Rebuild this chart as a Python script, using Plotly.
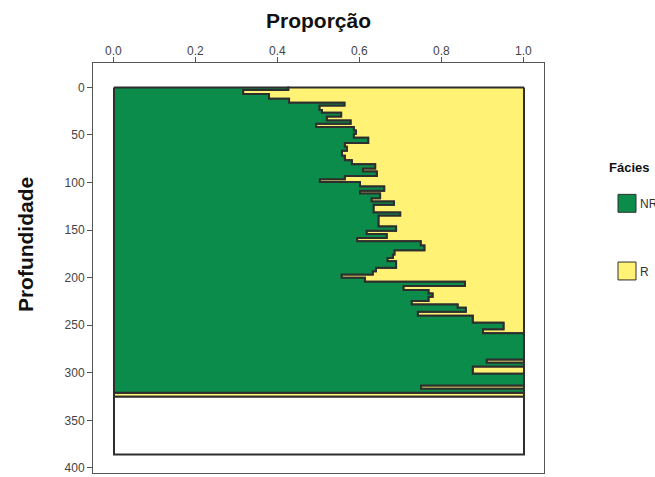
import plotly.graph_objects as go

# Depth (top of each interval) and proportion of facies NR in the interval
profundidade = [0, 2.6, 6.8, 12.0, 16.2, 19.1, 23.6, 26.7, 30.6, 34.8,
                38.2, 41.7, 45.2, 48.7, 52.9, 58.4, 62.3, 66.5, 71.7, 76.6,
                80.8, 85.3, 88.5, 93.0, 96.5, 99.3, 104.2, 108.7, 111.5, 116.4,
                119.9, 123.4, 131.4, 134.6, 146.1, 150.6, 154.1, 158.3, 161.8, 166.3,
                171.2, 175.7, 179.3, 182.7, 189.7, 193.2, 196.6, 200.2, 204.4, 208.9,
                213.1, 216.6, 220.1, 224.6, 228.1, 231.6, 235.8, 240.0, 247.3, 254.2,
                258.4, 286.1, 289.6, 293.4, 301.0, 313.3, 316.8, 320.9]
prop_nr = [0.425, 0.315, 0.378, 0.427, 0.562, 0.501, 0.507, 0.554, 0.519, 0.577,
           0.493, 0.585, 0.590, 0.585, 0.620, 0.563, 0.568, 0.556, 0.563, 0.580,
           0.637, 0.607, 0.641, 0.563, 0.502, 0.600, 0.659, 0.600, 0.649, 0.628,
           0.683, 0.633, 0.698, 0.645, 0.688, 0.616, 0.665, 0.593, 0.748, 0.757,
           0.684, 0.680, 0.667, 0.688, 0.639, 0.631, 0.555, 0.612, 0.856, 0.706,
           0.767, 0.777, 0.767, 0.726, 0.838, 0.858, 0.741, 0.875, 0.950, 0.900,
           1.0, 0.909, 1.0, 0.875, 1.0, 0.749, 1.0, 0.0]
base_dados = 325.1          # base of the last interval with data
base_sem_dados = 385.9      # base of the interval without data

facies = ["NR", "R"]
cores = {"NR": "#0b8c4a", "R": "#fff274"}
contorno = "#2e2e2e"

x_ticks = [0.0, 0.2, 0.4, 0.6, 0.8, 1.0]
y_ticks = [0, 50, 100, 150, 200, 250, 300, 350, 400]

# Step outline of the NR/R boundary
tops = profundidade
bots = profundidade[1:] + [base_dados]
bx, by = [], []
for p, t, b in zip(prop_nr, tops, bots):
    bx += [p, p]
    by += [t, b]

fig = go.Figure()
fig.add_trace(go.Scatter(
    x=[1.0] + bx + [1.0, 1.0], y=[tops[0]] + by + [base_dados, tops[0]],
    fill="toself", fillcolor=cores["R"], mode="lines",
    line=dict(color=contorno, width=2), showlegend=False, hoverinfo="skip"))
fig.add_trace(go.Scatter(
    x=[0.0] + bx + [0.0, 0.0], y=[tops[0]] + by + [base_dados, tops[0]],
    fill="toself", fillcolor=cores["NR"], mode="lines",
    line=dict(color=contorno, width=2), showlegend=False, hoverinfo="skip"))
fig.add_trace(go.Scatter(
    x=[0, 1, 1, 0, 0], y=[base_dados, base_dados, base_sem_dados, base_sem_dados, base_dados],
    fill="toself", fillcolor="white", mode="lines",
    line=dict(color=contorno, width=2), showlegend=False, hoverinfo="skip"))

L, R_, T, B = 93, 544, 63, 475
W, H = 655, 477
pw, ph = R_ - L, B - T


def px(xp):
    return (xp - L) / pw


def py(yp):
    return (B - yp) / ph


fonte = "Liberation Sans, Arial"

# Axis titles
fig.add_annotation(text="<b>Proporção</b>", xref="paper", yref="paper",
                   x=px(318), y=py(20), xanchor="center", yanchor="middle",
                   showarrow=False, font=dict(family=fonte, size=21, color="#111"))
fig.add_annotation(text="<b>Profundidade</b>", xref="paper", yref="paper",
                   x=px(25), y=py(246), xanchor="center", yanchor="middle",
                   showarrow=False, textangle=-90,
                   font=dict(family=fonte, size=21, color="#111"))

# Top-axis tick labels, sitting right on the tick marks
for v in x_ticks:
    fig.add_annotation(text=f"{v:.1f}", xref="x", yref="paper",
                       x=v, y=py(51), xanchor="center", yanchor="middle",
                       showarrow=False, font=dict(family=fonte, size=12, color="#444"))

# Legend
fig.add_annotation(text="<b>Fácies</b>", xref="paper", yref="paper",
                   x=px(607), y=py(168), xanchor="left", yanchor="middle",
                   showarrow=False, font=dict(family=fonte, size=13, color="#111"))
for nome, ymid in zip(facies, [204, 272]):
    fig.add_shape(type="rect", xref="paper", yref="paper",
                  x0=px(618), x1=px(636), y0=py(ymid - 9), y1=py(ymid + 9),
                  fillcolor=cores[nome], line=dict(color=contorno, width=1))
    fig.add_annotation(text=nome, xref="paper", yref="paper",
                       x=px(638), y=py(ymid + 1), xanchor="left", yanchor="middle",
                       showarrow=False, font=dict(family=fonte, size=12, color="#333"))

fig.update_xaxes(range=[-0.0512, 1.0488], side="top", tickvals=x_ticks,
                 showticklabels=False,
                 ticks="outside", ticklen=5, tickcolor="#555",
                 showline=True, mirror=True, linecolor="#555", linewidth=1,
                 showgrid=False, zeroline=False)
fig.update_yaxes(range=[405.4, -25.7], tickvals=y_ticks,
                 ticks="outside", ticklen=5, tickcolor="#555",
                 ticklabeloverflow="allow",
                 showline=True, mirror=True, linecolor="#555", linewidth=1,
                 showgrid=False, zeroline=False,
                 tickfont=dict(family=fonte, size=12, color="#444"))

fig.update_layout(width=W, height=H, margin=dict(l=L, r=W - R_, t=T, b=H - B),
                  plot_bgcolor="white", paper_bgcolor="white", showlegend=False)

fig.write_html("out.html")
